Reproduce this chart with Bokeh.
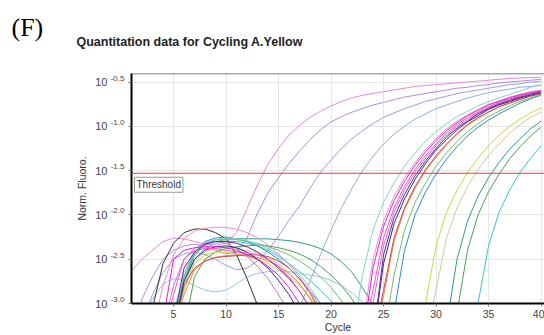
import math
from bokeh.plotting import figure
from bokeh.models import (Range1d, Span, Label, Title, LinearAxis, FixedTicker,
                          CustomJSTickFormatter)
from bokeh.embed import file_html
from bokeh.resources import INLINE

cycles = list(range(1, 41))
x_ticks = [5, 10, 15, 20, 25, 30, 35, 40]
y_ticks = [-3.0, -2.5, -2.0, -1.5, -1.0, -0.5]
y_tick_exps = ["-3.0", "-2.5", "-2.0", "-1.5", "-1.0", "-0.5"]
threshold = -1.53

# log10 normalised fluorescence per cycle (values < -3.0 are below the chart)
pink_early = [-2.63, -2.50, -2.40, -2.30, -2.26, -2.27, -2.30, -2.33, -2.34, -2.32,
              -2.20, -1.93, -1.66, -1.43, -1.25, -1.10, -0.99, -0.90, -0.83, -0.77,
              -0.72, -0.68, -0.65, -0.63, -0.61, -0.59, -0.57, -0.55, -0.54, -0.53,
              -0.52, -0.51, -0.50, -0.49, -0.48, -0.47, -0.46, -0.455, -0.45, -0.445]
purple_early = [-3.40, -2.95, -2.70, -2.50, -2.40, -2.35, -2.33, -2.35, -2.40, -2.44,
                -2.42, -2.26, -1.98, -1.75, -1.58, -1.42, -1.28, -1.15, -1.04, -0.95,
                -0.89, -0.84, -0.80, -0.76, -0.73, -0.70, -0.67, -0.65, -0.63, -0.61,
                -0.59, -0.57, -0.56, -0.54, -0.53, -0.51, -0.50, -0.49, -0.48, -0.47]
lavender_early = [-3.40, -3.20, -2.90, -2.65, -2.50, -2.44, -2.42, -2.45, -2.50, -2.57,
                  -2.62, -2.60, -2.52, -2.40, -2.24, -2.06, -1.90, -1.70, -1.52, -1.38,
                  -1.25, -1.14, -1.05, -0.97, -0.90, -0.85, -0.80, -0.76, -0.72, -0.69,
                  -0.66, -0.63, -0.61, -0.59, -0.57, -0.55, -0.53, -0.52, -0.50, -0.49]
steel_early = [-3.40, -3.40, -3.40, -3.40, -3.40, -3.40, -3.40, -3.40, -3.40, -3.40,
               -3.40, -3.40, -3.40, -3.40, -3.40, -3.40, -3.05, -2.75, -2.45, -2.17,
               -1.92, -1.70, -1.50, -1.34, -1.20, -1.09, -1.00, -0.92, -0.86, -0.80,
               -0.76, -0.72, -0.68, -0.65, -0.62, -0.60, -0.58, -0.56, -0.55, -0.54]
black_hump = [-3.40, -3.40, -3.05, -2.55, -2.32, -2.20, -2.16, -2.16, -2.20, -2.27,
              -2.45, -2.72, -3.02, -3.40, -3.40, -3.40, -3.40, -3.40, -3.40, -3.40,
              -3.40, -3.40, -3.40, -3.40, -3.40, -3.40, -3.40, -3.40, -3.40, -3.40,
              -3.40, -3.40, -3.40, -3.40, -3.40, -3.40, -3.40, -3.40, -3.40, -3.40]
lightblue_hump = [-3.40, -3.20, -2.95, -2.78, -2.72, -2.74, -2.80, -2.85, -2.87, -2.85,
                  -2.78, -2.70, -2.66, -2.64, -2.63, -2.64, -2.66, -2.68, -2.70, -2.74,
                  -2.80, -2.88, -2.98, -3.10, -3.40, -3.40, -3.40, -3.40, -3.40, -3.40,
                  -3.40, -3.40, -3.40, -3.40, -3.40, -3.40, -3.40, -3.40, -3.40, -3.40]
pink_light = [-3.40, -3.40, -3.30, -2.80, -2.45, -2.27, -2.18, -2.15, -2.14, -2.14,
              -2.16, -2.20, -2.26, -2.34, -2.44, -2.56, -2.70, -2.86, -3.05, -3.40,
              -3.40, -3.40, -3.25, -2.50, -2.07, -1.79, -1.58, -1.41, -1.26, -1.14,
              -1.03, -0.94, -0.87, -0.81, -0.75, -0.71, -0.67, -0.64, -0.61, -0.59]
light_teal = [-3.40, -3.40, -3.40, -3.40, -3.10, -2.65, -2.42, -2.32, -2.28, -2.26,
              -2.27, -2.29, -2.33, -2.38, -2.45, -2.55, -2.67, -2.82, -3.00, -3.30,
              -3.40, -3.40, -2.68, -2.17, -1.86, -1.64, -1.45, -1.30, -1.17, -1.06,
              -0.97, -0.89, -0.83, -0.77, -0.72, -0.68, -0.64, -0.60, -0.56, -0.53]
magenta = [-3.40, -3.40, -3.40, -3.20, -2.50, -2.40, -2.37, -2.36, -2.36, -2.37,
           -2.40, -2.45, -2.50, -2.58, -2.68, -2.82, -3.00, -3.30, -3.40, -3.40,
           -3.40, -3.40, -3.40, -2.60, -2.13, -1.84, -1.62, -1.44, -1.29, -1.16,
           -1.05, -0.96, -0.88, -0.82, -0.76, -0.72, -0.68, -0.645, -0.62, -0.60]
hot_pink = [-3.40, -3.40, -3.40, -3.40, -2.90, -2.50, -2.40, -2.38, -2.38, -2.40,
            -2.42, -2.43, -2.45, -2.50, -2.58, -2.70, -2.86, -3.05, -3.40, -3.40,
            -3.40, -3.40, -3.40, -2.85, -2.26, -1.92, -1.68, -1.49, -1.33, -1.20,
            -1.08, -0.98, -0.90, -0.84, -0.78, -0.73, -0.69, -0.655, -0.625, -0.605]
dark_violet = [-3.40, -3.40, -3.40, -3.40, -3.20, -2.60, -2.42, -2.33, -2.30, -2.30,
               -2.32, -2.36, -2.42, -2.50, -2.60, -2.72, -2.86, -3.05, -3.40, -3.40,
               -3.40, -3.40, -3.40, -3.40, -2.45, -2.03, -1.77, -1.56, -1.39, -1.25,
               -1.12, -1.02, -0.94, -0.86, -0.80, -0.75, -0.71, -0.67, -0.64, -0.61]
navy = [-3.40, -3.40, -3.40, -3.40, -3.30, -2.75, -2.50, -2.40, -2.36, -2.35,
        -2.37, -2.42, -2.50, -2.60, -2.74, -2.90, -3.10, -3.40, -3.40, -3.40,
        -3.40, -3.40, -3.40, -3.40, -2.55, -2.10, -1.82, -1.60, -1.42, -1.27,
        -1.15, -1.04, -0.95, -0.88, -0.81, -0.76, -0.72, -0.68, -0.65, -0.62]
red = [-3.40, -3.40, -3.40, -3.40, -3.30, -2.80, -2.60, -2.52, -2.48, -2.47,
       -2.46, -2.45, -2.45, -2.47, -2.52, -2.60, -2.72, -2.88, -3.10, -3.40,
       -3.40, -3.40, -3.40, -3.40, -2.85, -2.26, -1.92, -1.68, -1.49, -1.33,
       -1.20, -1.08, -0.98, -0.90, -0.84, -0.78, -0.74, -0.70, -0.66, -0.63]
orchid = [-3.40, -3.40, -3.40, -3.30, -2.80, -2.50, -2.38, -2.32, -2.30, -2.32,
          -2.38, -2.47, -2.58, -2.72, -2.90, -3.10, -3.40, -3.40, -3.40, -3.40,
          -3.40, -3.40, -3.40, -3.00, -2.35, -1.97, -1.72, -1.52, -1.36, -1.22,
          -1.10, -1.00, -0.92, -0.85, -0.79, -0.74, -0.70, -0.66, -0.63, -0.61]
green = [-3.40, -3.40, -3.40, -3.40, -3.20, -2.70, -2.45, -2.35, -2.30, -2.28,
         -2.28, -2.30, -2.32, -2.36, -2.40, -2.45, -2.52, -2.60, -2.70, -2.82,
         -2.97, -3.20, -3.40, -3.40, -3.40, -2.68, -2.17, -1.86, -1.64, -1.45,
         -1.30, -1.17, -1.06, -0.97, -0.89, -0.83, -0.77, -0.72, -0.68, -0.64]
blue = [-3.40, -3.40, -3.40, -3.40, -3.30, -2.70, -2.42, -2.30, -2.26, -2.25,
        -2.27, -2.30, -2.35, -2.42, -2.50, -2.60, -2.72, -2.86, -3.00, -3.20,
        -3.40, -3.40, -3.40, -3.40, -3.40, -3.10, -2.40, -2.00, -1.74, -1.54,
        -1.37, -1.23, -1.11, -1.01, -0.93, -0.86, -0.80, -0.74, -0.69, -0.65]
orange = [-3.40, -3.40, -3.40, -3.40, -3.30, -2.90, -2.62, -2.52, -2.48, -2.46,
          -2.45, -2.46, -2.48, -2.52, -2.58, -2.66, -2.78, -2.94, -3.15, -3.40,
          -3.40, -3.40, -3.40, -3.40, -2.92, -2.30, -1.94, -1.70, -1.50, -1.35,
          -1.21, -1.09, -0.99, -0.91, -0.84, -0.78, -0.73, -0.69, -0.66, -0.63]
yellow = [-3.40, -3.40, -3.40, -3.40, -3.30, -2.85, -2.55, -2.45, -2.42, -2.42,
          -2.44, -2.47, -2.50, -2.55, -2.62, -2.70, -2.80, -2.92, -3.08, -3.40,
          -3.40, -3.40, -3.40, -3.40, -3.40, -3.40, -3.40, -3.40, -3.00, -2.35,
          -1.97, -1.72, -1.52, -1.36, -1.22, -1.10, -1.00, -0.92, -0.85, -0.79]
beige = [-3.40, -3.40, -3.40, -3.40, -3.30, -2.80, -2.52, -2.42, -2.38, -2.37,
         -2.38, -2.40, -2.43, -2.48, -2.55, -2.65, -2.78, -2.95, -3.20, -3.40,
         -3.40, -3.40, -3.40, -3.40, -3.40, -3.40, -3.40, -3.40, -3.40, -2.85,
         -2.26, -1.92, -1.68, -1.49, -1.33, -1.20, -1.08, -0.98, -0.90, -0.84]
dark_teal = [-3.40, -3.40, -3.40, -3.40, -3.30, -2.75, -2.45, -2.32, -2.28, -2.27,
             -2.27, -2.27, -2.27, -2.27, -2.28, -2.29, -2.31, -2.34, -2.38, -2.44,
             -2.53, -2.65, -2.82, -3.02, -3.40, -3.40, -3.40, -3.40, -3.40, -3.40,
             -3.25, -2.50, -2.07, -1.79, -1.58, -1.41, -1.26, -1.14, -1.03, -0.94]
green2 = [-3.40, -3.40, -3.40, -3.40, -3.40, -3.30, -2.70, -2.50, -2.42, -2.38,
          -2.36, -2.35, -2.34, -2.35, -2.37, -2.40, -2.44, -2.50, -2.58, -2.68,
          -2.80, -2.95, -3.15, -3.40, -3.40, -3.40, -3.40, -3.40, -3.40, -3.40,
          -3.40, -3.10, -2.40, -2.00, -1.74, -1.54, -1.37, -1.23, -1.11, -1.01]
cyan = [-3.40, -3.40, -3.40, -3.40, -3.30, -2.80, -2.50, -2.38, -2.32, -2.30,
        -2.30, -2.32, -2.35, -2.40, -2.47, -2.55, -2.64, -2.74, -2.85, -2.97,
        -3.10, -3.40, -3.40, -3.40, -3.40, -3.40, -3.40, -3.40, -3.40, -3.40,
        -3.40, -3.40, -3.40, -3.00, -2.35, -1.97, -1.72, -1.52, -1.36, -1.22]

curves = [
    (lightblue_hump, "#9cc4e0"), (steel_early, "#8cb0d8"), (lavender_early, "#9c9ce0"),
    (purple_early, "#b48ad8"), (pink_early, "#e08ad4"), (black_hump, "#333333"),
    (cyan, "#3cc4c8"), (green2, "#4e9e50"), (dark_teal, "#2e9a88"),
    (beige, "#d8c49c"), (yellow, "#d4d43c"), (blue, "#3088d0"), (green, "#6cc06c"),
    (orange, "#e08848"), (red, "#d24a4a"), (light_teal, "#80d4cc"),
    (orchid, "#c07ac8"), (navy, "#2c2c8c"), (dark_violet, "#6a1fa0"),
    (hot_pink, "#ff50b8"), (pink_light, "#f08cc8"), (magenta, "#e020e0"),
]

FONT = "Liberation Sans"
Y_TOP = -0.404
EXP_RAISE = 0.045   # exponent labels sit ~4px above their tick

p = figure(width=544, height=335, output_backend="svg", toolbar_location=None,
           x_range=Range1d(1, 40.33), y_range=Range1d(-3.0, Y_TOP),
           min_border_left=131, min_border_right=0, min_border_top=73,
           min_border_bottom=32,
           title=Title(text="(F)", align="left", offset=-120,
                       text_font="Liberation Serif", text_font_style="normal",
                       text_font_size="26px", text_color="#000000", standoff=-66))
p.outline_line_color = None
p.background_fill_color = "white"
p.border_fill_color = "white"
p.add_layout(Title(text="Quantitation data for Cycling A.Yellow", align="left",
                   offset=-55, text_font=FONT, text_font_style="bold",
                   text_font_size="12.5px", text_color="#222222", standoff=49), "above")

p.xaxis.ticker = x_ticks
p.yaxis.ticker = y_ticks
p.xgrid.grid_line_color = "#e6e6e6"
p.ygrid.grid_line_color = "#e6e6e6"
for ax in (p.xaxis, p.yaxis):
    ax.axis_line_color = "black"
    ax.axis_line_width = 2
    ax.major_tick_line_color = "#777777"
    ax.major_tick_out = 3
    ax.major_tick_in = 0
    ax.minor_tick_line_color = None
p.xaxis.major_label_text_font = FONT
p.xaxis.major_label_text_font_size = "10.5px"
p.xaxis.major_label_text_color = "#444444"
p.xaxis.major_label_standoff = 3
p.xaxis.axis_label = "Cycle"
p.xaxis.axis_label_standoff = 0
p.xaxis.axis_label_text_font = FONT
p.xaxis.axis_label_text_font_style = "normal"
p.xaxis.axis_label_text_font_size = "10.5px"
p.xaxis.axis_label_text_color = "#333333"
p.yaxis.formatter = CustomJSTickFormatter(code="return ''")
p.yaxis.major_label_standoff = 0

exp_axis = LinearAxis(
    ticker=FixedTicker(ticks=[v + EXP_RAISE for v in y_ticks]),
    formatter=CustomJSTickFormatter(args=dict(labs=y_tick_exps), code="return labs[index]"),
    axis_line_color=None, major_tick_line_color=None, minor_tick_line_color=None,
    major_tick_out=0, major_tick_in=0, major_label_standoff=4,
    major_label_text_font=FONT, major_label_text_font_size="8px",
    major_label_text_color="#444444")
p.add_layout(exp_axis, "left")

ten_axis = LinearAxis(
    ticker=FixedTicker(ticks=y_ticks),
    formatter=CustomJSTickFormatter(code="return '10'"),
    axis_line_color=None, major_tick_line_color=None, minor_tick_line_color=None,
    major_tick_out=0, major_tick_in=0, major_label_standoff=0,
    major_label_text_font=FONT, major_label_text_font_size="11px",
    major_label_text_color="#444444",
    axis_label="Norm. Fluoro.", axis_label_standoff=4, axis_label_text_font=FONT,
    axis_label_text_font_style="normal", axis_label_text_font_size="10.5px",
    axis_label_text_color="#333333")
p.add_layout(ten_axis, "left")

p.add_layout(Span(location=Y_TOP, dimension="width", line_color="#555555", line_width=1.5))

for vals, col in curves:
    p.line(cycles, vals, line_color=col, line_width=1)

p.add_layout(Span(location=threshold, dimension="width", line_color="#e83838", line_width=1))
p.add_layout(Label(x=3, y=threshold, x_units="screen", y_units="data", y_offset=-4,
                   text="Threshold", text_font=FONT, text_font_size="10px",
                   text_color="#333333", text_baseline="top",
                   background_fill_color="white", border_line_color="#999999",
                   padding=2))

open("out.html", "w").write(file_html(p, INLINE))
